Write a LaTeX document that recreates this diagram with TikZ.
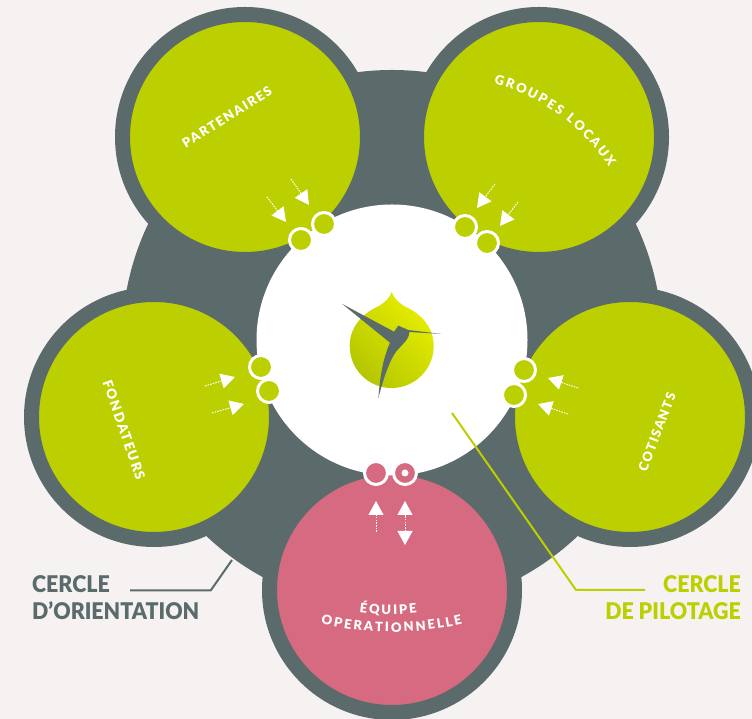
\documentclass[tikz,border=0pt]{standalone}
\usepackage{fontspec}
\setmainfont{Lato}
\newfontfamily\lblfont[LetterSpace=12]{Lato Black}
\newfontfamily\tightfont[LetterSpace=10]{Lato Black}
\newfontfamily\plainfont{Lato Black}
\newfontfamily\bigfont[FakeStretch=.93]{Lato Black}
\usetikzlibrary{arrows.meta,decorations.text}
\definecolor{paper}{HTML}{F6F2F1}
\definecolor{slate}{HTML}{5B6A6B}
\definecolor{lime}{HTML}{BCCF00}
\definecolor{rose}{HTML}{D66A80}
\tikzset{
    x=1pt, y=1pt,
    disc/.style={circle, draw=slate, line width=15pt, minimum size=245pt, inner sep=0pt},
    dot/.style={circle, draw=white, line width=3pt, minimum size=23pt, inner sep=0pt},
    flow/.style={white, line width=1pt, dash pattern=on 1.6pt off 1.1pt, -{Triangle[length=14pt,width=15pt]}},
    circlelabel/.style={text=white, font=\tightfont\fontsize{13}{13}\selectfont},
    biglabel/.style={font=\bigfont\fontsize{23}{23}\selectfont, inner sep=0pt},
    leader/.style={line width=2pt, line join=round},
    curvedlabel/.style={decorate, decoration={text effects along path, text={#1}, text align=center,
        text effects/.cd, text along path,
        characters={text=white, font=\plainfont\fontsize{13}{13}\selectfont, inner sep=0pt},
        character widths={font=\plainfont\fontsize{13}{13}\selectfont, inner ysep=0pt, inner xsep=1.05pt}}}
}
\begin{document}
\begin{tikzpicture}
    \clip (0,0) rectangle (752,719);
    \fill[paper] (0,0) rectangle (752,719);

    % the big circle and the five around it
    \node[circle, fill=slate, minimum size=540pt, inner sep=0pt] (orientation) at (392,379) {};
    \node[disc, fill=lime] (partenaires) at (245,582) {};
    \node[disc, fill=lime] (groupes) at (539,582) {};
    \node[disc, fill=lime] (fondateurs) at (154,302) {};
    \node[disc, fill=lime] (cotisants) at (630,302) {};
    \node[disc, fill=rose] (equipe) at (392,129) {};
    \node[circle, fill=white, minimum size=271pt, inner sep=0pt] (pilotage) at (392,379) {};

    % small dots
    \node[dot, fill=lime] (pa1) at (301,479) {};
    \node[dot, fill=lime] (pa2) at (324,495) {};
    \node[dot, fill=lime] (gr1) at (465,492) {};
    \node[dot, fill=lime] (gr2) at (487,476) {};
    \node[dot, fill=lime] (fo1) at (261,352) {};
    \node[dot, fill=lime] (fo2) at (269,328) {};
    \node[dot, fill=lime] (co1) at (524,349) {};
    \node[dot, fill=lime] (co2) at (514,324) {};
    \node[dot, fill=rose] (eq1) at (376,246) {};
    \node[dot, fill=rose] (eq2) at (405,246) {};
    \node[circle, fill=white, minimum size=7pt, inner sep=0pt] (eq2in) at (eq2) {};

    % arrows
    \coordinate (pa1s) at (267,522);
    \coordinate (pa1t) at (286,497);
    \coordinate (pa2s) at (291,540);
    \coordinate (pa2t) at (309,514);
    \coordinate (gr1s) at (495,535);
    \coordinate (gr1t) at (477,511);
    \coordinate (gr2s) at (518,517);
    \coordinate (gr2t) at (500,493);
    \coordinate (fo1s) at (205,333);
    \coordinate (fo1t) at (235,342);
    \coordinate (fo2s) at (212,306);
    \coordinate (fo2t) at (244,315);
    \coordinate (co1s) at (578,331);
    \coordinate (co1t) at (548,341);
    \coordinate (co2s) at (568,305);
    \coordinate (co2t) at (538,315);
    \coordinate (eq1s) at (376,187);
    \coordinate (eq1t) at (376,218);
    \coordinate (eq2s) at (405,174);
    \coordinate (eq2t) at (405,218);
    \draw[flow] (pa1s) -- (pa1t);
    \draw[flow] (pa2s) -- (pa2t);
    \draw[flow] (gr1s) -- (gr1t);
    \draw[flow] (gr2s) -- (gr2t);
    \draw[flow] (fo1s) -- (fo1t);
    \draw[flow] (fo2s) -- (fo2t);
    \draw[flow] (co1s) -- (co1t);
    \draw[flow] (co2s) -- (co2t);
    \draw[flow] (eq1s) -- (eq1t);
    \draw[flow, {Triangle[length=14pt,width=15pt]}-{Triangle[length=14pt,width=15pt]}] (eq2s) -- (eq2t);

    % clock
    \shade[left color=lime!96!black, right color=lime!35!yellow, shading angle=135]
        (391.7,427.3) .. controls (390,421) and (385,417) .. (379,413)
        .. controls (361,405) and (349.7,391) .. (349.7,373)
        .. controls (349.7,350) and (368,331) .. (391.7,331)
        .. controls (415,331) and (433.7,350) .. (433.7,373)
        .. controls (433.7,391) and (422,405) .. (404,413)
        .. controls (398,417) and (393.4,421) .. cycle;
    \fill[slate] (342.3,415) -- (394,387.3) -- (398.3,393.3) -- (408.3,389) -- (441.7,385) -- (409.3,387)
        .. controls (409,383) and (408,381) .. (406,378.3) -- (396,367.3)
        .. controls (388,356) and (382,335) .. (378.3,320.7)
        .. controls (380,340) and (382,358) .. (390,376.3) -- cycle;

    % names on the circles
    \node[text=white, font=\lblfont\fontsize{13}{13}\selectfont, rotate=32] (partenaireslbl) at (227,602) {PARTENAIRES};
    \node[text=white, font=\lblfont\fontsize{13.5}{13.5}\selectfont, rotate=-71] (fondateurslbl) at (124,289) {FONDATEURS};
    \node[circlelabel, rotate=69] (cotisantslbl) at (657,287) {COTISANTS};
    \path[curvedlabel={GROUPES LOCAUX}] (483,638) arc[start angle=78, end angle=30, radius=200];
    \path[curvedlabel={ÉQUIPE}] (350,108) arc[start angle=260, end angle=280, radius=220];
    \path[curvedlabel={OPERATIONNELLE}] (295.9,102.2) arc[start angle=252, end angle=288, radius=310];

    % legend
    \node[biglabel, text=slate, anchor=west] (orientlbl1) at (32,135) {CERCLE};
    \node[biglabel, text=slate, anchor=west] (orientlbl2) at (32,108) {D’ORIENTATION};
    \node[biglabel, text=lime, anchor=east] (pilotlbl1) at (741,135) {CERCLE};
    \node[biglabel, text=lime, anchor=east] (pilotlbl2) at (741,108) {DE PILOTAGE};
    \coordinate (orientfree) at (130,128.5);
    \coordinate (orientelbow) at (210.7,128.5);
    \coordinate (orientend) at (232,159);
    \coordinate (pilotstart) at (452,306);
    \coordinate (pilotelbow) at (576,129);
    \coordinate (pilotfree) at (645,129);
    \draw[leader, slate] (orientfree) -- (orientelbow) -- (orientend);
    \draw[leader, lime] (pilotstart) -- (pilotelbow) -- (pilotfree);
\end{tikzpicture}
\end{document}
